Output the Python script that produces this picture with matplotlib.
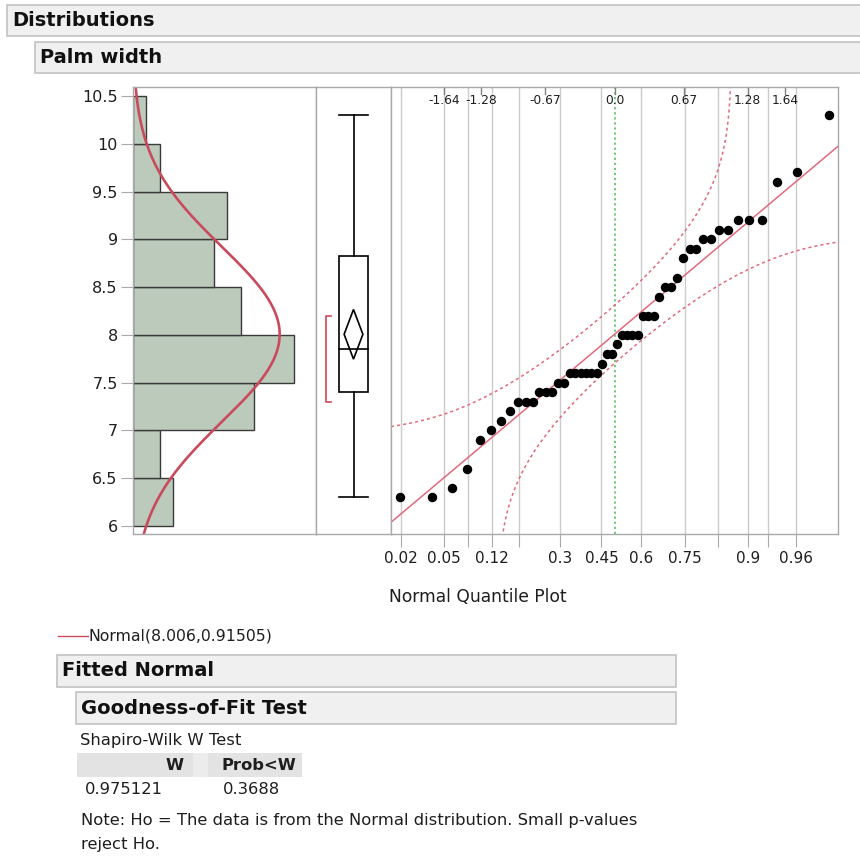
import numpy as np
import matplotlib
matplotlib.use("Agg")
import matplotlib.pyplot as plt
import matplotlib.transforms as mtransforms
from matplotlib.patches import Rectangle, Polygon
from statistics import NormalDist

# palm width sample (n = 50)
palm_width = [6.3, 6.3, 6.4, 6.6, 6.9, 7.0, 7.1, 7.2, 7.3, 7.3,
              7.3, 7.4, 7.4, 7.4, 7.5, 7.5, 7.6, 7.6, 7.6, 7.6,
              7.6, 7.6, 7.7, 7.8, 7.8, 7.9, 8.0, 8.0, 8.0, 8.0,
              8.2, 8.2, 8.2, 8.4, 8.5, 8.5, 8.6, 8.8, 8.9, 8.9,
              9.0, 9.0, 9.1, 9.1, 9.2, 9.2, 9.2, 9.6, 9.7, 10.3]
bin_edges = [6.0, 6.5, 7.0, 7.5, 8.0, 8.5, 9.0, 9.5, 10.0, 10.5]
y_ticks = [6, 6.5, 7, 7.5, 8, 8.5, 9, 9.5, 10, 10.5]
y_tick_labels = ["6", "6.5", "7", "7.5", "8", "8.5", "9", "9.5", "10", "10.5"]
prob_lines = [0.02, 0.05, 0.08, 0.12, 0.18, 0.3, 0.45, 0.6, 0.75, 0.84, 0.9, 0.93, 0.96]
prob_labels = ["0.02", "0.05", "", "0.12", "", "0.3", "0.45", "0.6", "0.75", "", "0.9", "", "0.96"]
z_ticks = [-1.64, -1.28, -0.67, 0.0, 0.67, 1.28, 1.64]
z_labels = ["-1.64", "-1.28", "-0.67", "0.0", "0.67", "1.28", "1.64"]
fit_label = "Normal(8.006,0.91505)"
sw_header = ["W", "Prob<W"]
sw_values = ["0.975121", "0.3688"]
T_CRIT = 2.0096      # t(0.975, 49)
LILLIE_D = 0.13      # Lilliefors band half width

W, H = 860, 864
plt.rcParams["font.family"] = ["DejaVu Sans"]

HIST_FILL = "#bccabb"
HIST_EDGE = "#3a3a3a"
CURVE = "#c94a5c"
FIT = "#e06a7c"
GRID = "#cbcbcb"
FRAME = "#a9a9a9"
TXT = "#1e1e1e"

fig = plt.figure(figsize=(W / 100, H / 100), dpi=100)
fig.patch.set_facecolor("white")


def axes_px(x0, y0, x1, y1):
    ax = fig.add_axes([x0 / W, 1 - y1 / H, (x1 - x0) / W, (y1 - y0) / H])
    for s in ax.spines.values():
        s.set_color(FRAME)
        s.set_linewidth(1)
    return ax


def header(x0, y0, x1, y1, text, size=14, pad=5):
    fig.add_artist(Rectangle((x0 / W, 1 - y1 / H), (x1 - x0) / W, (y1 - y0) / H,
                             transform=fig.transFigure, fc="#f0f0f0", ec="#c2c2c2", lw=1.2))
    fig.text((x0 + pad) / W, 1 - (y0 + y1) / 2 / H, text, fontsize=size,
             fontweight="bold", va="center", ha="left", color="#111111")


def ftext(x, y, s, **kw):
    kw.setdefault("fontsize", 12)
    kw.setdefault("color", TXT)
    kw.setdefault("va", "center")
    fig.text(x / W, 1 - y / H, s, **kw)


vals = np.array(palm_width)
n = len(vals)
mean = vals.mean()
sd = vals.std(ddof=1)
ylo, yhi = 5.916, 10.594

# headers
header(7, 5, 870, 36, "Distributions")
header(35, 42, 870, 73, "Palm width")

# ---- histogram with fitted normal
ax_h = axes_px(133, 87, 316, 534)
counts, _ = np.histogram(vals, bins=bin_edges)
bw = bin_edges[1] - bin_edges[0]
ax_h.barh(np.array(bin_edges[:-1]) + bw / 2, counts, height=bw,
          color=HIST_FILL, edgecolor=HIST_EDGE, linewidth=1)
yy = np.linspace(ylo, yhi, 400)
dens = np.array([NormalDist(mean, sd).pdf(v) for v in yy])
ax_h.plot(dens * n * bw, yy, color=CURVE, lw=1.9)
ax_h.set_xlim(0, 13.6)
ax_h.set_ylim(ylo, yhi)
ax_h.set_xticks([])
ax_h.set_yticks(y_ticks)
ax_h.set_yticklabels(y_tick_labels, fontsize=11.5, color=TXT)
ax_h.tick_params(axis="y", length=9, color=FRAME, pad=2)

# ---- outlier box plot
ax_b = axes_px(316, 87, 391, 534)
ax_b.set_xlim(0, 1)
ax_b.set_ylim(ylo, yhi)
ax_b.set_xticks([])
ax_b.set_yticks([])
q1, med, q3 = np.quantile(vals, [0.25, 0.5, 0.75], method="weibull")
iqr = q3 - q1
lo_w = vals[vals >= q1 - 1.5 * iqr].min()
hi_w = vals[vals <= q3 + 1.5 * iqr].max()
cx, hw = 0.5, 0.195
ax_b.add_patch(Rectangle((cx - hw, q1), 2 * hw, q3 - q1, fill=False, ec="black", lw=1.2))
ax_b.plot([cx - hw, cx + hw], [med, med], color="black", lw=1.2)
ax_b.plot([cx, cx], [q3, hi_w], color="black", lw=1.2)
ax_b.plot([cx, cx], [lo_w, q1], color="black", lw=1.2)
ax_b.plot([cx - hw, cx + hw], [hi_w, hi_w], color="black", lw=1.2)
ax_b.plot([cx - hw, cx + hw], [lo_w, lo_w], color="black", lw=1.2)
ci = T_CRIT * sd / np.sqrt(n)
dw = 0.125
ax_b.add_patch(Polygon([(cx, mean + ci), (cx + dw, mean), (cx, mean - ci), (cx - dw, mean)],
                       closed=True, fill=False, ec="black", lw=1.2))
# shortest half bracket
sv = np.sort(vals)
k = n // 2
widths = sv[k - 1:] - sv[:n - k + 1]
i0 = int(np.argmin(widths))
s_lo, s_hi = sv[i0], sv[i0 + k - 1]
bx = 0.135
ax_b.plot([bx + 0.07, bx, bx, bx + 0.07], [s_hi, s_hi, s_lo, s_lo], color="#d0455a", lw=1.2)

# ---- normal quantile plot
ax_q = axes_px(391, 87, 838, 534)
zmax = 2.15
ax_q.set_xlim(-zmax, zmax)
ax_q.set_ylim(ylo, yhi)
nd = NormalDist()
grid_z = [nd.inv_cdf(p) for p in prob_lines]
for gz in grid_z:
    ax_q.axvline(gz, color=GRID, lw=1, zorder=0)
ax_q.axvline(0, color="#66c466", lw=1.3, ls=(0, (1.2, 1.6)), zorder=1)
ax_q.set_xticks(grid_z)
ax_q.set_xticklabels(prob_labels, fontsize=11, color=TXT)
ax_q.tick_params(axis="x", length=9, color=FRAME, pad=3)
ax_q.set_yticks([])

zz = np.linspace(-zmax, zmax, 3000)
ax_q.plot(zz, mean + sd * zz, color=FIT, lw=1.1, zorder=2)
pz = np.array([nd.cdf(z) for z in zz])
eps = 1e-9
up = np.array([nd.inv_cdf(min(max(p + LILLIE_D, eps), 1 - eps)) for p in pz])
dn = np.array([nd.inv_cdf(min(max(p - LILLIE_D, eps), 1 - eps)) for p in pz])
ax_q.plot(zz, mean + sd * up, color=FIT, lw=1.1, ls=(0, (2, 2)), zorder=2)
ax_q.plot(zz, mean + sd * dn, color=FIT, lw=1.1, ls=(0, (2, 2)), zorder=2)

plot_z = [nd.inv_cdf(i / (n + 1)) for i in range(1, n + 1)]
ax_q.plot(plot_z, sv, "o", color="black", ms=5.8, zorder=3)

# top normal-quantile labels
trans = mtransforms.blended_transform_factory(ax_q.transData, ax_q.transAxes)
for z, lab in zip(z_ticks, z_labels):
    ax_q.plot([z, z], [1, 1 - 7 / 447], color="#808080", lw=1, transform=trans, clip_on=False)
    ax_q.text(z, 1 - 14 / 447, lab, transform=trans, ha="center", va="center",
              fontsize=8.8, color=TXT)

ftext(389, 597, "Normal Quantile Plot", fontsize=12.3)

# ---- legend + fitted normal report
fig.add_artist(plt.Line2D([58 / W, 88 / W], [1 - 636 / H, 1 - 636 / H],
                          transform=fig.transFigure, color=CURVE, lw=1))
ftext(88, 636, fit_label, fontsize=11.3)
header(57, 655, 676, 687, "Fitted Normal")
header(76, 692, 676, 724, "Goodness-of-Fit Test")
ftext(80, 740, "Shapiro-Wilk W Test", fontsize=11.8)
fig.add_artist(Rectangle((77 / W, 1 - 777 / H), (193 - 77) / W, 24 / H,
                         transform=fig.transFigure, fc="#e3e3e3", ec="none"))
fig.add_artist(Rectangle((193 / W, 1 - 777 / H), (208 - 193) / W, 24 / H,
                         transform=fig.transFigure, fc="#ececec", ec="none"))
fig.add_artist(Rectangle((208 / W, 1 - 777 / H), (302 - 208) / W, 24 / H,
                         transform=fig.transFigure, fc="#e3e3e3", ec="none"))
ftext(184, 765, sw_header[0], fontsize=11.8, fontweight="bold", ha="right")
ftext(296, 765, sw_header[1], fontsize=11.8, fontweight="bold", ha="right")
ftext(163, 789, sw_values[0], fontsize=11.8, ha="right")
ftext(280, 789, sw_values[1], fontsize=11.8, ha="right")
ftext(81, 821, "Note: Ho = The data is from the Normal distribution. Small p-values", fontsize=11.8)
ftext(81, 844, "reject Ho.", fontsize=11.8)

fig.savefig("out.png", dpi=100)
